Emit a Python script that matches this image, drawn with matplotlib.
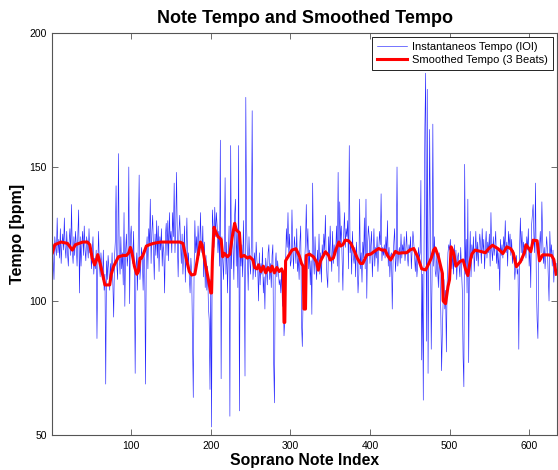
import matplotlib
matplotlib.use("Agg")
import matplotlib.pyplot as plt
import numpy as np

# instantaneous tempo (bpm) for each soprano note
tempo_ioi = [
    126, 115, 108, 124, 120, 117,
    131, 118, 123, 116, 127, 114, 121, 125, 119, 131,
    120, 116, 126, 118, 113, 122, 127, 117, 136,
    119, 114, 124, 117, 126, 121, 113, 125, 134, 103,
    124, 113, 121, 126, 117, 128, 119, 115, 124,
    121, 116, 127, 118, 120, 112, 118, 124, 110,
    116, 112, 119, 86, 112, 126, 114, 109, 118,
    113, 108, 119, 104, 110, 69, 115, 108, 117, 112,
    104, 114, 109, 118, 106, 94, 116, 122, 143,
    113, 108, 155, 117, 110, 124, 112, 118, 106,
    133, 98, 119, 125, 113, 117, 150, 99, 123, 128,
    119, 114, 126, 110, 73, 112, 118, 104, 125,
    147, 108, 113, 120, 116, 104, 119, 112, 69,
    118, 124, 112, 127, 121, 138, 114, 126, 132, 119,
    108, 125, 117, 130, 116, 128, 111, 124, 119,
    127, 113, 122, 118, 103, 124, 129, 117, 130,
    115, 133, 122, 126, 118, 133, 124, 144, 118, 128,
    148, 122, 109, 126, 132, 121, 114, 125, 110,
    119, 128, 107, 120, 131, 113, 118, 109, 103,
    116, 110, 88, 64, 111, 130, 118, 124, 115, 128,
    121, 117, 133, 120, 118, 128, 109, 122, 105,
    117, 104, 113, 98, 93, 67, 108, 53, 134,
    128, 120, 135, 124, 133, 128, 118, 126, 113, 160,
    71, 124, 116, 108, 120, 146, 110, 122, 103,
    117, 128, 57, 158, 112, 126, 120, 108, 132,
    138, 113, 127, 105, 158, 59, 124, 113, 121, 109,
    130, 112, 72, 176, 128, 117, 104, 124, 115,
    110, 121, 171, 108, 113, 118, 109, 122, 115,
    112, 100, 118, 106, 114, 110, 120, 103, 109, 97,
    116, 112, 106, 118, 121, 108, 114, 105, 117,
    121, 77, 62, 113, 118, 109, 115, 111, 106,
    108, 103, 112, 98, 107, 87, 93, 114, 127, 120,
    133, 118, 125, 113, 115, 134, 119, 112, 124,
    120, 114, 127, 111, 116, 108, 122, 128, 92,
    83, 101, 104, 115, 122, 136, 118, 127, 112, 119,
    106, 115, 95, 144, 117, 110, 124, 113, 108,
    119, 112, 125, 110, 118, 107, 121, 116, 125,
    119, 132, 116, 109, 105, 124, 115, 128, 118, 111,
    126, 114, 121, 117, 119, 128, 113, 148, 107,
    137, 122, 128, 116, 104, 125, 133, 120, 127,
    124, 130, 112, 158, 118, 122, 110, 126, 117, 114,
    120, 109, 122, 115, 103, 110, 138, 112, 118,
    107, 122, 116, 131, 112, 138, 101, 121, 128,
    124, 114, 121, 126, 109, 118, 127, 113, 120, 116,
    124, 111, 119, 126, 121, 140, 115, 120, 117,
    121, 116, 124, 118, 130, 113, 120, 109, 117,
    118, 97, 114, 122, 127, 111, 116, 150, 113, 118,
    120, 114, 125, 116, 121, 118, 124, 115, 119,
    126, 117, 113, 121, 118, 124, 112, 119, 126,
    122, 117, 111, 118, 109, 114, 120, 116, 118,
    145, 78, 110, 63, 122, 165, 185, 85, 179, 73,
    118, 164, 125, 82, 108, 166, 113, 124, 111,
    109, 117, 112, 105, 118, 110, 96, 74, 89, 101,
    108, 97, 104, 81, 107, 118, 121, 119, 123,
    115, 112, 118, 110, 121, 113, 119, 108, 116,
    118, 113, 109, 120, 112, 104, 79, 68, 151, 110,
    123, 103, 138, 77, 114, 126, 109, 121, 116,
    124, 111, 118, 126, 115, 122, 113, 120, 125,
    121, 114, 127, 118, 123, 112, 120, 126, 116, 122,
    118, 125, 113, 133, 119, 115, 124, 117, 121,
    126, 114, 120, 112, 118, 104, 123, 117, 121,
    116, 124, 119, 130, 118, 122, 113, 126, 120, 125,
    117, 123, 114, 119, 116, 108, 113, 117, 110,
    112, 82, 120, 131, 118, 126, 115, 122, 119,
    121, 116, 124, 119, 127, 113, 120, 105, 128, 132,
    136, 124, 118, 144, 108, 93, 86, 114, 120,
    126, 118, 137, 123, 114, 120, 112, 118, 124,
    119, 110, 100, 126, 117, 121, 113, 119, 107, 115,
    110, 114,
]

# smoothed tempo (3 beats), vertices
smooth_idx = [1, 4, 12, 20, 26, 30, 39, 45, 48, 51, 54, 56, 58, 61, 64, 67, 73, 75, 78, 84,
              90, 94, 97, 99, 101, 104, 107, 109, 111, 113, 116, 119, 123, 128, 137, 146,
              156, 161, 165, 169, 173, 176, 180, 184, 187, 189, 193, 197, 200, 201, 202, 204,
              206, 209, 213, 215, 217, 221, 224, 227, 230, 232, 236, 238, 242, 246, 249, 253,
              255, 258, 260, 263, 266, 269, 272, 275, 277, 280, 283, 286, 289, 291, 292, 293,
              294, 298, 302, 307, 311, 314, 316, 317, 319, 320, 324, 329, 333, 335, 338, 344,
              348, 350, 354, 357, 361, 363, 366, 369, 373, 376, 379, 384, 388, 391, 396, 401,
              405, 411, 415, 419, 422, 426, 432, 436, 441, 446, 450, 455, 460, 465, 470, 474,
              477, 480, 482, 486, 491, 492, 495, 498, 500, 502, 505, 508, 513, 517, 520, 523,
              526, 528, 532, 539, 545, 549, 554, 561, 567, 572, 577, 580, 584, 589, 594, 596,
              600, 602, 605, 610, 613, 617, 624, 628, 631, 634]
smooth_bpm = [118, 121, 122, 121.5, 119, 121, 122, 122, 121, 116, 113.5, 115, 117.3, 114, 110, 106, 106, 110, 113, 116.5,
              117, 117, 118, 120, 118, 113, 110, 111, 116, 116, 118, 120.5, 121, 121.5, 122, 122,
              122, 122, 121.5, 116, 111, 109.7, 110, 117, 122, 121, 114, 108, 103, 103, 115, 127.5,
              126, 124, 123, 116.5, 117.8, 116.5, 117.5, 124, 129, 126.5, 125.5, 116.5, 117, 116, 116.5, 115.3,
              112.5, 112, 113.5, 111, 113, 110.5, 112.5, 111, 113, 110.5, 112.5, 111, 112, 110.3, 92, 92,
              115, 117, 119, 119.5, 117, 114, 113, 97, 97, 117, 117.5, 116.5, 114.5, 111.5, 115, 118.4,
              117, 115.3, 116, 119, 122, 120.5, 121, 122.7, 122.5, 121.5, 119.6, 116, 114, 114, 117.2, 117.5,
              118.4, 119.6, 119, 119, 117, 115.3, 118.5, 117.8, 118, 118, 119, 119.6, 116.5, 112, 111.6, 114,
              116, 119, 119.8, 116.5, 110.3, 100, 99, 105.3, 108, 120.2, 118, 113, 114.7, 115.3, 112, 109.5,
              115, 117.5, 119, 118.5, 118, 119.5, 120.8, 119.5, 117.7, 120.2, 119.5, 118, 112.8, 114.6, 118, 121,
              119.5, 118.4, 122.7, 122.5, 115, 117.2, 117.2, 117, 115.5, 110]

xticks = [100, 200, 300, 400, 500, 600]
yticks = [50, 100, 150, 200]

plt.rcParams['font.family'] = ['Liberation Sans', 'DejaVu Sans']

fig = plt.figure(figsize=(5.58, 4.70), dpi=100)
ax = fig.add_axes([52.4 / 558, 35 / 470, 504.6 / 558, 402 / 470])

note_idx = np.arange(1, len(tempo_ioi) + 1)
ax.plot(note_idx, tempo_ioi, color="#0000ff", linewidth=0.45, alpha=0.85,
        label="Instantaneos Tempo (IOI)")
ax.plot(smooth_idx, smooth_bpm, color="#ff0000", linewidth=2.2, label="Smoothed Tempo (3 Beats)")

ax.set_xlim(1, 635)
ax.set_ylim(50, 200)
ax.set_xticks(xticks)
ax.set_yticks(yticks)
ax.tick_params(direction="in", length=4, width=0.6, labelsize=7.5, top=True, right=True,
               colors="#555555", labelcolor="black", pad=4)
for sp in ax.spines.values():
    sp.set_color("#555555")
    sp.set_linewidth(0.8)

ax.set_title("Note Tempo and Smoothed Tempo", fontsize=13, fontweight="bold", pad=7)
ax.set_xlabel("Soprano Note Index", fontsize=11.3, fontweight="bold", va="bottom")
ax.xaxis.set_label_coords(0.5, -0.083)
ax.set_ylabel("Tempo [bpm]", fontsize=11.5, fontweight="bold", labelpad=3)

leg = ax.legend(loc="upper right", fontsize=8, fancybox=False, framealpha=1,
                edgecolor="black", borderaxespad=0.4, handlelength=2.7,
                handletextpad=0.5, borderpad=0.4, labelspacing=0.3)
leg.get_frame().set_linewidth(0.6)

fig.savefig("out.png", dpi=100)
